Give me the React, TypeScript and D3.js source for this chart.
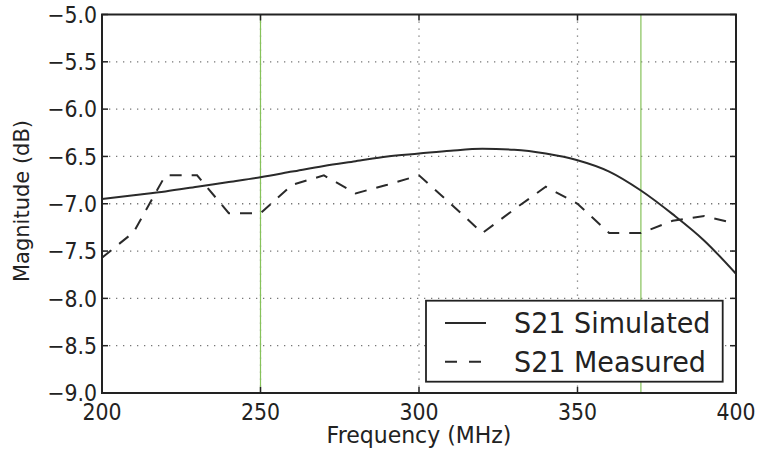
import React from "react";
import * as d3 from "d3";

const freqs = [200, 210, 220, 230, 240, 250, 260, 270, 280, 290, 300, 310, 320, 330, 340, 350, 360, 370, 380, 390, 400];
const simulated = [-6.95, -6.91, -6.87, -6.82, -6.77, -6.72, -6.66, -6.6, -6.55, -6.5, -6.47, -6.44, -6.42, -6.43, -6.47, -6.54, -6.66, -6.86, -7.11, -7.39, -7.74];
const measured = [-7.57, -7.3, -6.7, -6.7, -7.1, -7.1, -6.8, -6.7, -6.89, -6.8, -6.7, -7.0, -7.31, -7.06, -6.82, -7.0, -7.31, -7.31, -7.18, -7.13, -7.21];
const xTicks = [200, 250, 300, 350, 400];
const yTicks = [-5.0, -5.5, -6.0, -6.5, -7.0, -7.5, -8.0, -8.5, -9.0];
const markerFreqs = [250, 370];
const seriesNames = ["S21 Simulated", "S21 Measured"];

const W = 757;
const H = 452;
const L = 102, R = 736, T = 14.5, B = 393;
const FONT = "DejaVu Sans";
const TXT = "#222";

export default function App() {
  const x = d3.scaleLinear().domain([200, 400]).range([L, R]);
  const y = d3.scaleLinear().domain([-9, -5]).range([B, T]);
  const simLine = d3.line<number>().x((_, i) => x(freqs[i])).y((d) => y(d)).curve(d3.curveMonotoneX);
  const measLine = d3.line<number>().x((_, i) => x(freqs[i])).y((d) => y(d));
  const tickLen = 6;

  return (
    <svg width={W} height={H} style={{ position: "absolute", left: 0, top: 0 }} fontFamily={FONT}>
      <rect x={0} y={0} width={W} height={H} fill="#fff" />
      {/* grid */}
      {yTicks.slice(1, -1).map((t) => (
        <line key={"gy" + t} x1={L} x2={R} y1={y(t)} y2={y(t)} stroke="#777" strokeWidth={1.3} strokeDasharray="1.3,5.7" />
      ))}
      {xTicks.slice(1, -1).map((t) => (
        <line key={"gx" + t} x1={x(t)} x2={x(t)} y1={T} y2={B} stroke="#777" strokeWidth={1.3} strokeDasharray="1.3,5.7" />
      ))}
      {markerFreqs.map((f) => (
        <line key={"m" + f} x1={x(f)} x2={x(f)} y1={T} y2={B} stroke="#86c25a" strokeWidth={1.2} />
      ))}
      {/* data */}
      <path d={simLine(simulated) || ""} fill="none" stroke="#2a2a2a" strokeWidth={2} />
      <path d={measLine(measured) || ""} fill="none" stroke="#2a2a2a" strokeWidth={2} strokeDasharray="12,10" />
      {/* ticks */}
      {yTicks.map((t) => (
        <g key={"ty" + t}>
          <line x1={L} x2={L + tickLen} y1={y(t)} y2={y(t)} stroke="#222" strokeWidth={1.5} />
          <line x1={R} x2={R - tickLen} y1={y(t)} y2={y(t)} stroke="#222" strokeWidth={1.5} />
          <text transform={`translate(97,${y(t)}) scale(1,1.12)`} textAnchor="end" dy="0.36em" fontSize={20.5} fill={TXT}>
            {t.toFixed(1).replace("-", "\u2212")}
          </text>
        </g>
      ))}
      {xTicks.map((t) => (
        <g key={"tx" + t}>
          <line x1={x(t)} x2={x(t)} y1={B} y2={B - tickLen} stroke="#222" strokeWidth={1.5} />
          <line x1={x(t)} x2={x(t)} y1={T} y2={T + tickLen} stroke="#222" strokeWidth={1.5} />
          <text transform={`translate(${x(t)},420) scale(1,1.1)`} textAnchor="middle" fontSize={20.5} fill={TXT}>
            {t}
          </text>
        </g>
      ))}
      {/* frame */}
      <rect x={L} y={T} width={R - L} height={B - T} fill="none" stroke="#222" strokeWidth={2} />
      {/* axis labels */}
      <text transform={`translate(${(L + R) / 2},443) scale(1,1.05)`} textAnchor="middle" fontSize={22} fill={TXT}>
        Frequency (MHz)
      </text>
      <text transform={`translate(29,201) rotate(-90)`} textAnchor="middle" fontSize={21} fill={TXT}>
        Magnitude (dB)
      </text>
      {/* legend */}
      <rect x={426} y={300.7} width={296.7} height={81} fill="#fff" stroke="#222" strokeWidth={1.8} />
      <line x1={445} x2={486} y1={323} y2={323} stroke="#2a2a2a" strokeWidth={2} />
      <line x1={445} x2={486} y1={361.7} y2={361.7} stroke="#2a2a2a" strokeWidth={2} strokeDasharray="12,12" />
      <text transform="translate(514,332.7) scale(1,1.06)" fontSize={27} fill={TXT}>
        {seriesNames[0]}
      </text>
      <text transform="translate(514,371.7) scale(1,1.06)" fontSize={27} fill={TXT}>
        {seriesNames[1]}
      </text>
    </svg>
  );
}
